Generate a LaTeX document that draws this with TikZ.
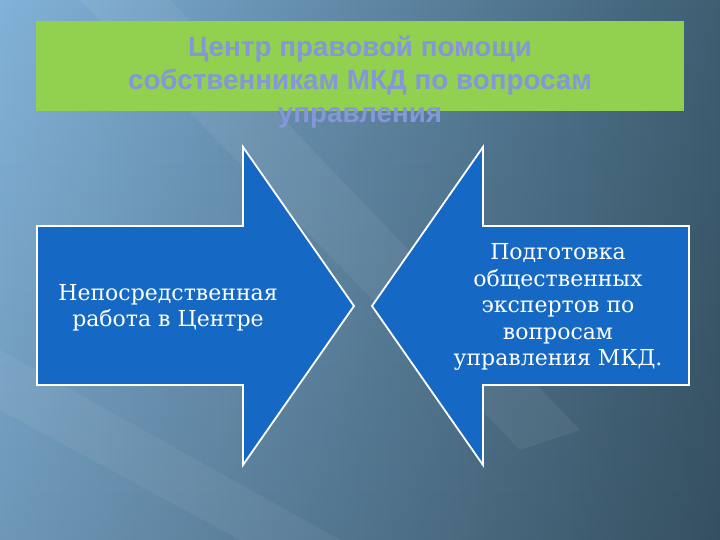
\documentclass[tikz,border=0pt]{standalone}
\usepackage{fontspec}
\setmainfont{DejaVu Serif}
\newfontfamily\titlefont{Liberation Sans}
\usetikzlibrary{fadings}

\definecolor{bgleft}{HTML}{82B2D8}
\definecolor{bgright}{HTML}{3E5E72}
\definecolor{titlegreen}{HTML}{92D050}
\definecolor{titleblue}{HTML}{8597D8}
\definecolor{arrowblue}{HTML}{1569C4}

\begin{document}
\begin{tikzpicture}[x=1pt,y=-1pt]

      \useasboundingbox (0,0) rectangle (720,540);
      \shade[left color=bgleft, right color=bgright] (0,0) rectangle (720,540);
      \fill[black, opacity=0.15, path fading=north] (0,0) rectangle (720,540);
      \fill[white, opacity=0.06] (80,0) -- (170,0) -- (580,430) -- (520,450) -- cycle;
      \fill[white, opacity=0.05] (0,350) -- (0,410) -- (240,540) -- (340,540) -- cycle;

      \fill[titlegreen] (36,21) rectangle (684,111);

      \begin{scope}[every path/.style={fill=arrowblue,draw=white,line width=1.8pt,line join=miter}]
        \path (37,226) -- (243,226) -- (243,147) -- (354,306) -- (243,465) -- (243,385) -- (37,385) -- cycle;
        \path (689,226) -- (483,226) -- (483,147) -- (372,306) -- (483,465) -- (483,385) -- (689,385) -- cycle;
      \end{scope}

      \node[font=\titlefont\bfseries\fontsize{27.8}{33}\selectfont, text=titleblue, align=center] (title) at (360,82)
        {Центр правовой помощи\\собственникам МКД по вопросам\\управления};

      \begin{scope}[every node/.style={text=white,align=center,font=\fontsize{22}{26.5}\selectfont}]
        \node (work)    at (168,308) {Непосредственная\\работа в Центре};
        \node (experts) at (558,307) {Подготовка\\общественных\\экспертов по\\вопросам\\управления МКД.};
      \end{scope}

    \end{tikzpicture}
\end{document}
